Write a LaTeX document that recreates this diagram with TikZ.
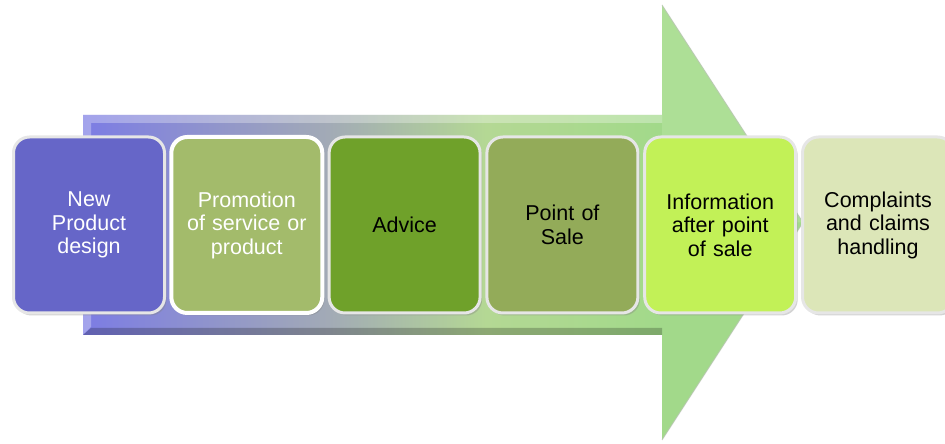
\documentclass[tikz,border=0pt]{standalone}
\usepackage{fontspec}
\setmainfont{Liberation Sans}
\usetikzlibrary{shadows}

\definecolor{arrPurple}{HTML}{7C7CE4}
\definecolor{arrGray}{HTML}{A2AAB6}
\definecolor{arrLight}{HTML}{B4D894}
\definecolor{arrGreen}{HTML}{A2D98A}
\definecolor{headTop}{HTML}{B2E29C}
\definecolor{cA}{HTML}{6666C8}
\definecolor{cB}{HTML}{A3BB6B}
\definecolor{cC}{HTML}{6FA12A}
\definecolor{cD}{HTML}{93AB59}
\definecolor{cE}{HTML}{C2F157}
\definecolor{cF}{HTML}{DCE6B8}
\definecolor{rim}{HTML}{E6E6E6}

% left-to-right blend of the process arrow (bbox maps to 25bp..75bp)
\pgfdeclarehorizontalshading{flow}{100bp}{%
  color(0bp)=(arrPurple); color(25bp)=(arrPurple);
  color(42bp)=(arrGray); color(53bp)=(arrLight);
  color(65bp)=(arrGreen); color(100bp)=(arrGreen)}

\tikzset{
  stage/.style={rounded corners=16pt, minimum width=151pt, minimum height=176pt,
    draw=rim, line width=3pt, inner sep=4pt, text width=142pt, align=center,
    font=\fontsize{21.5}{23.5}\selectfont,
    drop shadow={opacity=0.35, shadow xshift=2pt, shadow yshift=-2.5pt}},
  darktext/.style={text=black},
  lighttext/.style={text=white}
}

\begin{document}
\begin{tikzpicture}[x=1pt,y=1pt]
  \useasboundingbox (0,0) rectangle (945,444);

  % process arrow
  \shade[shading=flow]
    (83,329) -- (662,329) -- (662,439) -- (803,221.5) -- (662,4) -- (662,109) -- (83,109) -- cycle;
  % green arrow head, lighter upper half
  \fill[arrGreen] (662,439) -- (803,221.5) -- (662,4) -- cycle;
  \fill[headTop, opacity=0.7] (662,439) -- (803,221.5) -- (662,221.5) -- cycle;
  \draw[black!25, opacity=0.5, line width=1.2pt] (662,439) -- (803,221.5) -- (662,4);
  % bevel of the arrow body
  \fill[white, opacity=0.30] (83,329) -- (662,329) -- (662,321) -- (91,321) -- (91,117) -- (83,109) -- cycle;
  \fill[black, opacity=0.22] (83,109) -- (662,109) -- (662,116) -- (91,116) -- cycle;

  % process stages
  \node[stage, fill=cA, lighttext] (b1) at (89,219) {New\\Product\\design};
  \node[stage, fill=cB, lighttext, draw=white, line width=4pt] (b2) at (246.8,219) {Promotion\\of service or\\product};
  \node[stage, fill=cC, darktext] (b3) at (404.6,219) {Advice};
  \node[stage, fill=cD, darktext] (b4) at (562.4,219) {Point of\\Sale};
  \node[stage, fill=cE, darktext] (b5) at (720.2,219) {Information\\after point\\of sale};
  \node[stage, fill=cF, darktext] (b6) at (878,219) {Complaints\\and claims\\handling};
\end{tikzpicture}
\end{document}
